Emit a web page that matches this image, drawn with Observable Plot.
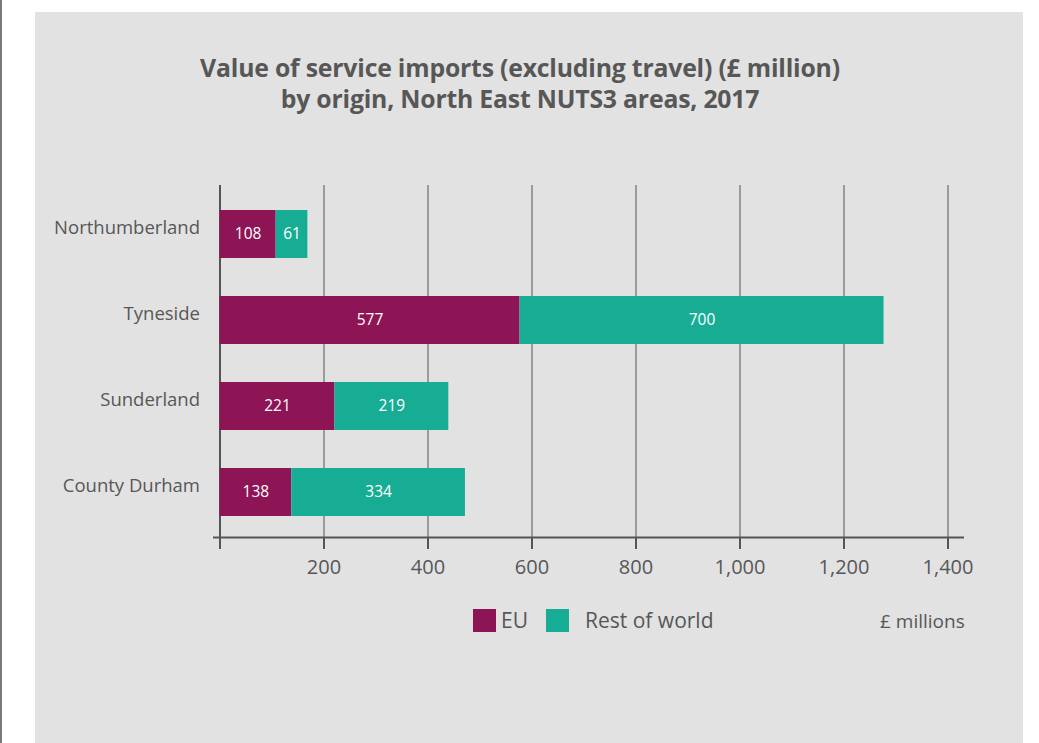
<!DOCTYPE html>
<html>
<head>
<meta charset="utf-8">
<script src="https://cdn.jsdelivr.net/npm/d3@7"></script>
<script src="https://cdn.jsdelivr.net/npm/@observablehq/plot@0.6"></script>
<style>
  html, body { margin: 0; padding: 0; background: #fff; width: 1039px; height: 743px; overflow: hidden; }
  body { font-family: "Open Sans", sans-serif; color: #575757; position: relative; }
  #edge { position: absolute; left: 0; top: 0; width: 2px; height: 743px; background: #7a7a7a; }
  #panel { position: absolute; left: 35px; top: 12px; width: 988px; height: 740px; background: #e2e2e2; }
  #title { position: absolute; left: 0; width: 970px; top: 40px; text-align: center; font-weight: 700; font-size: 24.8px; line-height: 31px; color: #575757; letter-spacing: -0.2px; }
  #chart { position: absolute; left: 0; top: 140px; }
  .leg { position: absolute; top: 594px; font-size: 21px; color: #575757; display: flex; align-items: center; }
  .sw { width: 23px; height: 23px; display: inline-block; }
  #units { position: absolute; left: 845px; top: 596px; font-size: 19px; color: #575757; }
</style>
</head>
<body>
<div id="edge"></div>
<div id="panel">
  <div id="title">Value of service imports (excluding travel) (£ million)<br>by origin, North East NUTS3 areas, 2017</div>
  <div id="chart"></div>
  <div class="leg" style="left:438px"><span class="sw" style="background:#8d1556;margin-right:5px"></span>EU</div>
  <div class="leg" style="left:511px"><span class="sw" style="background:#17ad95;margin-right:16px"></span>Rest of world</div>
  <div id="units">£ millions</div>
</div>
<script>
const areas = ["Northumberland", "Tyneside", "Sunderland", "County Durham"];
const euValues = [108, 577, 221, 138];
const rowValues = [61, 700, 219, 334];
const seriesNames = ["EU", "Rest of world"];
const seriesColors = ["#8d1556", "#17ad95"];
const xTicks = [0, 200, 400, 600, 800, 1000, 1200, 1400];

const data = [];
areas.forEach((a, i) => {
  data.push({area: a, series: "EU", value: euValues[i]});
  data.push({area: a, series: "Rest of world", value: rowValues[i]});
});

const fmt = d3.format(",");
const chart = Plot.plot({
  width: 988,
  height: 460,
  marginLeft: 184.5,
  marginRight: 75.5,
  marginTop: 33,
  marginBottom: 75,
  style: {background: "transparent", fontFamily: "Open Sans, sans-serif", color: "#575757"},
  x: {domain: [0, 1400], ticks: xTicks},
  y: {domain: areas, paddingInner: 0.44, paddingOuter: 0.25, align: 0.55},
  color: {domain: seriesNames, range: seriesColors},
  marks: [
    Plot.gridX(xTicks, {stroke: "#555", strokeOpacity: 1, strokeWidth: (d) => d === 0 ? 2 : 1}),
    Plot.barX(data, Plot.stackX({y: "area", x: "value", fill: "series", z: "series", order: seriesNames})),
    Plot.text(data, Plot.stackX({y: "area", x: "value", z: "series", text: (d) => String(d.value), order: seriesNames, fill: "white", fontSize: 15.5})),
    Plot.frame({anchor: "bottom", stroke: "#555", strokeWidth: 2, insetLeft: -6, insetRight: -15}),
    Plot.axisX(xTicks, {tickSize: 12, tickPadding: 10, tickFormat: (d) => d === 0 ? "" : fmt(d), fontSize: 20, stroke: "#555", strokeWidth: 2, fill: "#575757", label: null}),
    Plot.axisY({tickSize: 0, tickPadding: 20, fontSize: 18.5, dy: -6, fill: "#575757", label: null})
  ]
});
document.getElementById("chart").appendChild(chart);
</script>
</body>
</html>
